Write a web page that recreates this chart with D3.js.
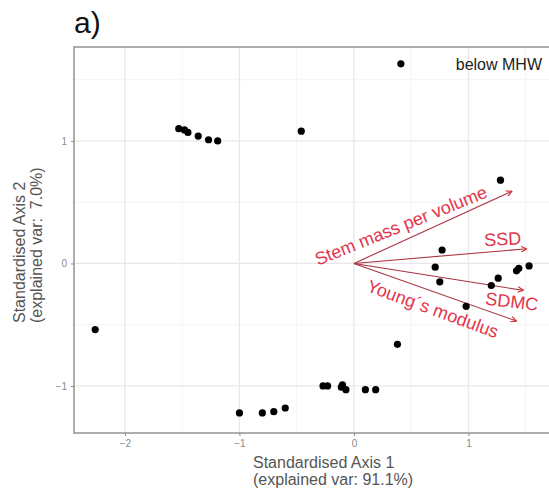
<!DOCTYPE html>
<html>
<head>
<meta charset="utf-8">
<script src="https://cdn.jsdelivr.net/npm/d3@7"></script>
<style>
  body { margin: 0; background: #fff; }
  text { font-family: "Liberation Sans", Arial, sans-serif; }
</style>
</head>
<body>
<div id="chart"></div>
<script>
// scores (standardised axis 1 / axis 2)
const pc1 = [0.41, -1.53, -1.48, -1.45, -1.36, -1.27, -1.19, -0.46,
             1.28, 0.77, 0.71, 0.75, 0.98, 1.20, 1.26, 1.42, 1.44, 1.53, 0.38,
             -1.00, -0.80, -0.70, -0.60, -0.27, -0.23, -0.10, -0.11, -0.07, 0.10, 0.19,
             -2.26]
const pc2 = [1.63, 1.10, 1.09, 1.07, 1.04, 1.01, 1.00, 1.08,
             0.68, 0.11, -0.03, -0.15, -0.35, -0.18, -0.12, -0.06, -0.04, -0.02, -0.66,
             -1.22, -1.22, -1.21, -1.18, -1.00, -1.00, -0.99, -1.01, -1.03, -1.03, -1.03,
             -0.54]

// loadings arrows
const varNames = ["Stem mass per volume", "SSD", "SDMC", "Young\u00b4s modulus"]
const varX = [1.38, 1.51, 1.48, 1.42]
const varY = [0.59, 0.12, -0.22, -0.47]
const labX = [0.41, 1.30, 1.38, 0.69]
const labY = [0.31, 0.20, -0.31, -0.37]
const labAngle = [-22, -3, 7, 20]

const xTicks = [-2, -1, 0, 1]
const yTicks = [-1, 0, 1]

const width = 549, height = 498
const pLeft = 74, pTop = 47, pRight = 556, pBottom = 433

const svg = d3.select("#chart").append("svg")
    .attr("width", width).attr("height", height)

const x = d3.scaleLinear().domain([-2.445, 1.765]).range([pLeft, pRight])
const y = d3.scaleLinear().domain([-1.384, 1.767]).range([pBottom, pTop])

const gPanel = svg.append("g")

// minor grid
const xMinor = [-1.5, -0.5, 0.5, 1.5]
const yMinor = [-0.5, 0.5, 1.5]
gPanel.selectAll(".xminor").data(xMinor).enter().append("line")
    .attr("x1", d => x(d)).attr("x2", d => x(d))
    .attr("y1", pTop).attr("y2", pBottom)
    .style("stroke", "#f4f4f4").style("stroke-width", 1)
gPanel.selectAll(".yminor").data(yMinor).enter().append("line")
    .attr("x1", pLeft).attr("x2", pRight)
    .attr("y1", d => y(d)).attr("y2", d => y(d))
    .style("stroke", "#f4f4f4").style("stroke-width", 1)
// major grid
gPanel.selectAll(".xmajor").data(xTicks).enter().append("line")
    .attr("x1", d => x(d)).attr("x2", d => x(d))
    .attr("y1", pTop).attr("y2", pBottom)
    .style("stroke", "#e8e8e8").style("stroke-width", 1.3)
gPanel.selectAll(".ymajor").data(yTicks).enter().append("line")
    .attr("x1", pLeft).attr("x2", pRight)
    .attr("y1", d => y(d)).attr("y2", d => y(d))
    .style("stroke", "#e8e8e8").style("stroke-width", 1.3)

// arrows
const defs = svg.append("defs")
defs.append("marker")
    .attr("id", "head")
    .attr("viewBox", "0 0 10 10")
    .attr("refX", 9).attr("refY", 5)
    .attr("markerWidth", 7).attr("markerHeight", 7)
    .attr("markerUnits", "userSpaceOnUse")
    .attr("orient", "auto")
  .append("path")
    .attr("d", "M1,1 L9,5 L1,9")
    .style("fill", "none").style("stroke", "#d8283c").style("stroke-width", 1.6)

gPanel.selectAll(".arrow").data(varNames).enter().append("line")
    .attr("x1", x(0)).attr("y1", y(0))
    .attr("x2", (d, i) => x(varX[i])).attr("y2", (d, i) => y(varY[i]))
    .style("stroke", "#a8323e").style("stroke-width", 1.1)
    .attr("marker-end", "url(#head)")

// points
gPanel.selectAll(".pt").data(pc1).enter().append("circle")
    .attr("cx", d => x(d)).attr("cy", (d, i) => y(pc2[i]))
    .attr("r", 3.6)
    .style("fill", "#000")

// arrow labels
gPanel.selectAll(".vlab").data(varNames).enter().append("text")
    .attr("transform", (d, i) => `translate(${x(labX[i])},${y(labY[i])}) rotate(${labAngle[i]})`)
    .attr("text-anchor", "middle")
    .attr("dy", "0.35em")
    .style("font-size", "18px")
    .style("fill", "#e3344a")
    .text(d => d)

// panel border
svg.append("rect")
    .attr("x", pLeft).attr("y", pTop)
    .attr("width", pRight - pLeft).attr("height", pBottom - pTop)
    .style("fill", "none").style("stroke", "#8c8c8c").style("stroke-width", 1.4)

// axes
const xAxis = svg.append("g")
    .attr("transform", `translate(0, ${pBottom})`)
    .call(d3.axisBottom(x).tickValues(xTicks).tickSize(3).tickPadding(4).tickFormat(d3.format("d")))
xAxis.select(".domain").remove()
xAxis.selectAll("line").style("stroke", "#8c8c8c")
xAxis.selectAll("text").style("font-size", "10px").style("fill", "#8a8a8a")
    .style("font-family", "'Liberation Sans', Arial, sans-serif")

const yAxis = svg.append("g")
    .attr("transform", `translate(${pLeft}, 0)`)
    .call(d3.axisLeft(y).tickValues(yTicks).tickSize(3).tickPadding(4).tickFormat(d3.format("d")))
yAxis.select(".domain").remove()
yAxis.selectAll("line").style("stroke", "#8c8c8c")
yAxis.selectAll("text").style("font-size", "10px").style("fill", "#8a8a8a")
    .style("font-family", "'Liberation Sans', Arial, sans-serif")

// axis titles
const xTitle = svg.append("text")
    .attr("x", 253).attr("y", 468)
    .style("font-size", "16px").style("fill", "#555")
xTitle.append("tspan").attr("x", 253).text("Standardised Axis 1")
xTitle.append("tspan").attr("x", 253).attr("dy", 17).text("(explained var: 91.1%)")

const yTitle = svg.append("text")
    .attr("transform", "translate(25, 323) rotate(-90)")
    .style("font-size", "16px").style("fill", "#555")
    .style("white-space", "pre")
yTitle.append("tspan").attr("x", 0).text("Standardised Axis 2")
yTitle.append("tspan").attr("x", 0).attr("dy", 17).text("(explained var:  7.0%)")

// group label
svg.append("text")
    .attr("x", 542).attr("y", 70)
    .attr("text-anchor", "end")
    .style("font-size", "16px").style("fill", "#222")
    .text("below MHW")

// panel tag
svg.append("text")
    .attr("x", 74).attr("y", 33)
    .style("font-size", "30px").style("fill", "#111")
    .text("a)")
</script>
</body>
</html>
